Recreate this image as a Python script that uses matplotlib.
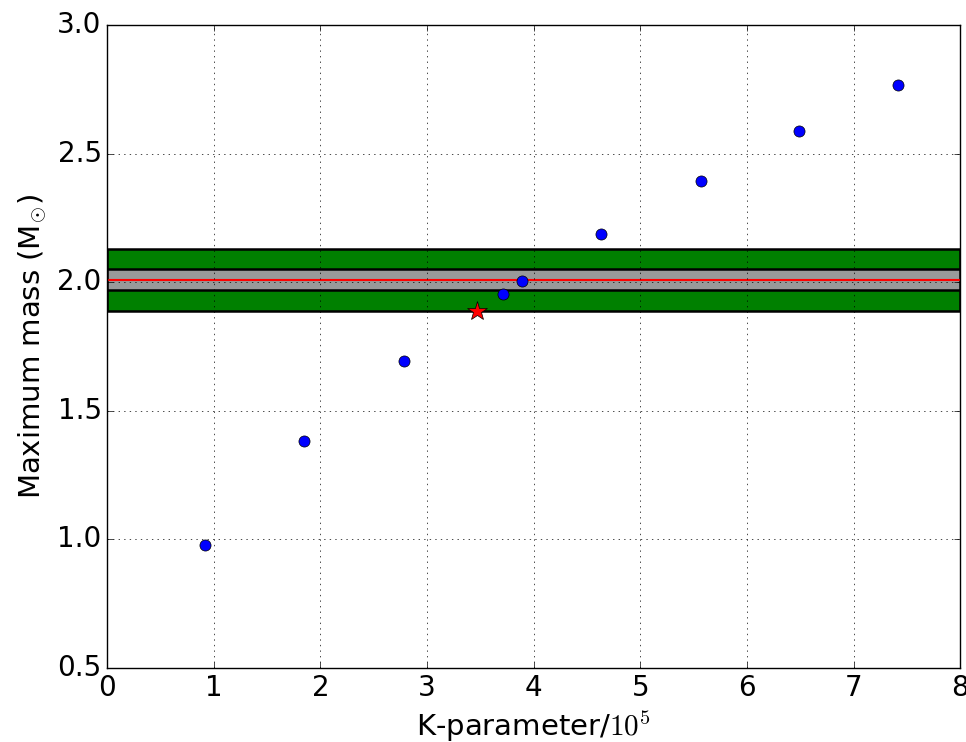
import matplotlib
matplotlib.use("Agg")
import matplotlib.pyplot as plt

# maximum mass for each K value (K in units of 1e5)
k_values = [0.92, 1.85, 2.78, 3.71, 3.89, 4.63, 5.57, 6.49, 7.42]
max_mass = [0.978, 1.383, 1.694, 1.954, 2.005, 2.187, 2.393, 2.588, 2.767]

# interpolated K for the observed mass
k_star = [3.47]
m_star = [1.888]

# observed mass constraint
obs_mass = 2.01
obs_err = 0.04
obs_err_wide = 0.12

plt.style.use("classic")
fig = plt.figure(figsize=(9.66, 7.42), dpi=100)
ax = fig.add_axes([0.111, 0.0997, 0.883, 0.8666])

ax.axhspan(obs_mass - obs_err_wide, obs_mass + obs_err_wide, facecolor="green",
           edgecolor="black", linewidth=1.8)
ax.axhspan(obs_mass - obs_err, obs_mass + obs_err, facecolor="#999999",
           edgecolor="black", linewidth=1.8)
ax.axhline(obs_mass, color="red", linewidth=1.5)

ax.plot(k_values, max_mass, "o", color="blue", markeredgecolor="black",
        markersize=8, zorder=5)
ax.plot(k_star, m_star, "*", color="red", markeredgecolor="black",
        markersize=15, zorder=5)

ax.set_xlim(0, 8)
ax.set_ylim(0.5, 3.0)
ax.grid(True)
ax.set_axisbelow(False)
ax.tick_params(labelsize=20)
ax.set_xlabel("K-parameter/$10^5$", fontsize=21)
ax.set_ylabel(r"Maximum mass (M$_{\odot}$)", fontsize=21)

fig.savefig("out.png", dpi=100)
